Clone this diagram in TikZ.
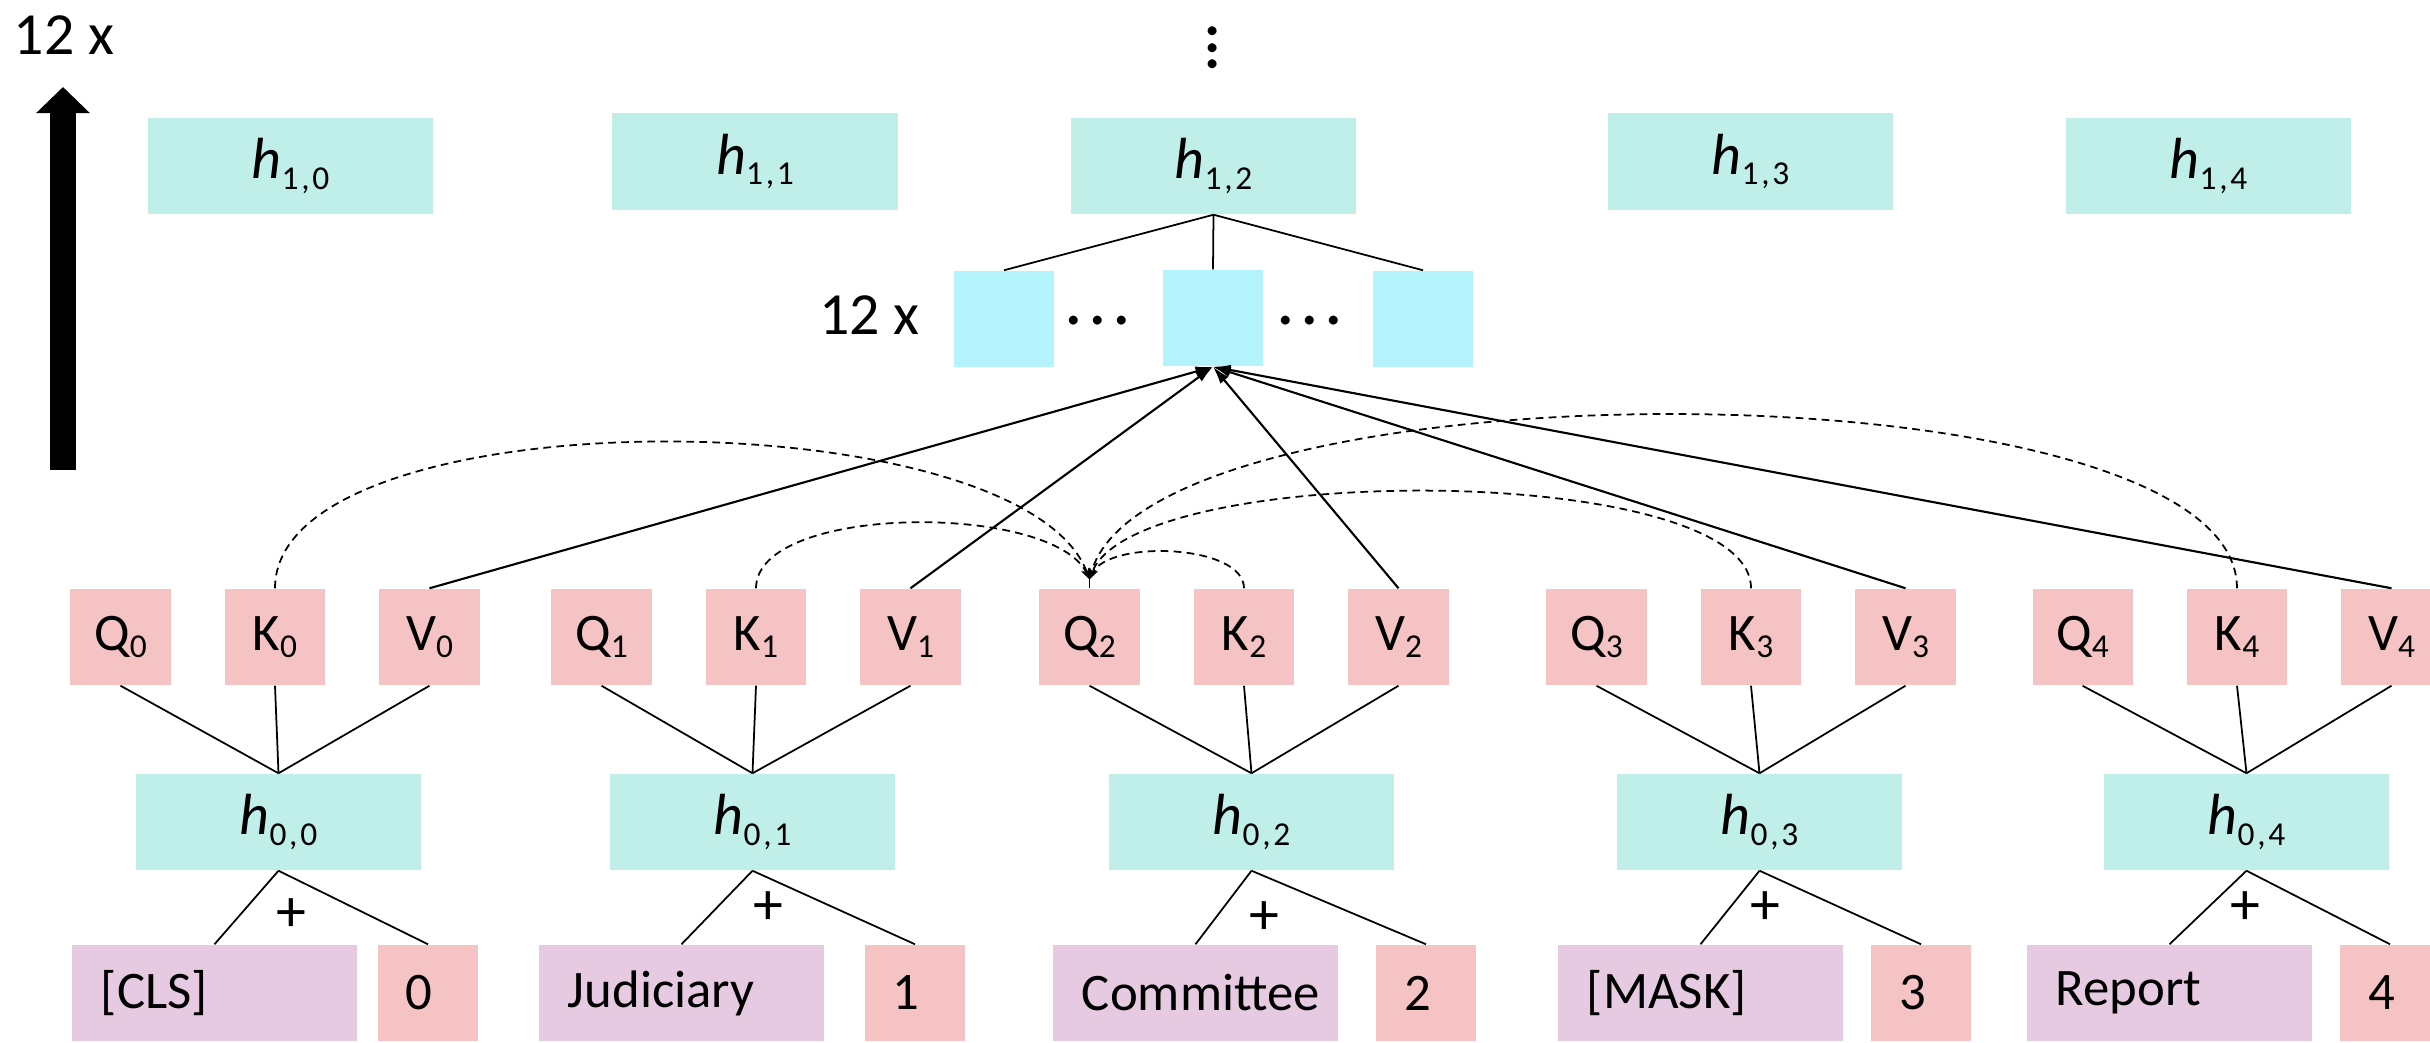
\documentclass[tikz,border=0pt]{standalone}
\usepackage{fontspec}
\setmainfont{Carlito}
\usepackage{tikz}
\usetikzlibrary{arrows.meta,positioning}

\definecolor{hcol}{RGB}{192,238,232}
\definecolor{scol}{RGB}{180,242,252}
\definecolor{pcol}{RGB}{245,195,195}
\definecolor{tcol}{RGB}{229,202,225}

\newcommand\sub[1]{\raisebox{-2pt}{\fontsize{9.5}{9.5}\selectfont #1}}
\newcommand\hlab[2]{\textit{h}\raisebox{-3pt}{\fontsize{9.5}{9.5}\selectfont #1\kern0.8pt,\kern0.8pt#2}}
\newcommand\vdotsx{.\kern-0.6pt.\kern-0.6pt.}
\newcommand\hdotsx{.\kern1.6pt.\kern1.6pt.}

\begin{document}
\begin{tikzpicture}[
  x=0.01cm, y=0.01cm,
  font=\fontsize{15}{18}\selectfont,
  >={Latex[length=5pt,width=3pt]},
  hstate/.style={fill=hcol, minimum width=2.85cm, minimum height=0.96cm, inner sep=0pt,
                 font=\fontsize{16.5}{18}\selectfont},
  headbox/.style={fill=scol, minimum width=1cm, minimum height=0.96cm, inner sep=0pt},
  qkv/.style={fill=pcol, minimum width=1cm, minimum height=0.96cm, inner sep=0pt},
  tok/.style={fill=tcol, text width=2.27cm, inner xsep=0.29cm, inner ysep=0pt,
              minimum height=0.96cm, align=left},
  posbox/.style={fill=pcol, text width=0.44cm, inner xsep=0.28cm, inner ysep=0pt,
                 minimum height=0.96cm, align=left},
  plus/.style={font=\fontsize{17}{18}\selectfont, inner sep=0pt},
  replab/.style={font=\fontsize{17}{20}\selectfont, inner sep=0pt},
  dotlab/.style={font=\fontsize{21}{21}\selectfont, inner sep=0pt},
  conn/.style={line width=0.5pt},
  arr/.style={->, line width=0.6pt},
  attn/.style={-{Stealth[length=3pt,width=2.4pt]}, line width=0.5pt, dash pattern=on 2.2pt off 1.5pt},
  bigarrow/.style={line width=0.26cm, -{Triangle[length=0.26cm,width=0.52cm]}},
  node distance=0.53cm
]
\useasboundingbox (0,0) rectangle (2430,1042);

% ---------- layer 1 outputs ----------
\node[hstate] (h10) at (290.5,876) {\hlab{1}{0}};
\node[hstate] (h11) at (755,880.5) {\hlab{1}{1}};
\node[hstate] (h12) at (1213.5,876) {\hlab{1}{2}};
\node[hstate] (h13) at (1750.5,880.5) {\hlab{1}{3}};
\node[hstate] (h14) at (2208.5,876) {\hlab{1}{4}};
\node[dotlab, rotate=90] (more) at (1213,994) {\vdotsx};

% stack of 12 layers
\node[replab] (rep1) at (64,1007) {12 x};
\coordinate (upbot) at (63,572);
\coordinate (uptop) at (63,955);
\draw[bigarrow] (upbot) -- (uptop);

% ---------- attention heads ----------
\node[headbox] (sM) at (1213,724) {};
\node[headbox] (sL) at (1004,723) {};
\node[headbox] (sR) at (1423,723) {};
\node[dotlab] (dl) at (1098,721) {\hdotsx};
\node[dotlab] (dr) at (1310,721) {\hdotsx};
\node[replab] (rep2) at (869,727) {12 x};

\draw[conn] (h12.south) -- (sL.north);
\draw[conn] (h12.south) -- (sM.north);
\draw[conn] (h12.south) -- (sR.north);

% ---------- queries, keys, values ----------
\node[qkv] (K0) at (275,405) {K\sub{0}};
\node[qkv, left=of K0] (Q0) {Q\sub{0}};
\node[qkv, right=of K0] (V0) {V\sub{0}};
\node[qkv] (K1) at (756,405) {K\sub{1}};
\node[qkv, left=of K1] (Q1) {Q\sub{1}};
\node[qkv, right=of K1] (V1) {V\sub{1}};
\node[qkv] (K2) at (1244,405) {K\sub{2}};
\node[qkv, left=of K2] (Q2) {Q\sub{2}};
\node[qkv, right=of K2] (V2) {V\sub{2}};
\node[qkv] (K3) at (1751,405) {K\sub{3}};
\node[qkv, left=of K3] (Q3) {Q\sub{3}};
\node[qkv, right=of K3] (V3) {V\sub{3}};
\node[qkv] (K4) at (2237,405) {K\sub{4}};
\node[qkv, left=of K4] (Q4) {Q\sub{4}};
\node[qkv, right=of K4] (V4) {V\sub{4}};

% ---------- layer 0 states ----------
\node[hstate] (h00) at (278.5,220) {\hlab{0}{0}};
\node[hstate] (h01) at (752.5,220) {\hlab{0}{1}};
\node[hstate] (h02) at (1251.5,220) {\hlab{0}{2}};
\node[hstate] (h03) at (1759.5,220) {\hlab{0}{3}};
\node[hstate] (h04) at (2246.5,220) {\hlab{0}{4}};

% ---------- token + position embeddings ----------
\node[tok] (t0) at (214.5,49) {[CLS]};
\node[posbox] (n0) at (428,49) {0};
\node[tok] (t1) at (681.5,49) {Judiciary};
\node[posbox] (n1) at (915,49) {1};
\node[tok] (t2) at (1195.5,49) {Committee};
\node[posbox] (n2) at (1426,49) {2};
\node[tok] (t3) at (1700.5,49) {[MASK]};
\node[posbox] (n3) at (1921,49) {3};
\node[tok] (t4) at (2169.5,49) {Report};
\node[posbox] (n4) at (2390,49) {4};

\node[plus] (p0) at (291,127) {+};
\node[plus] (p1) at (768,134) {+};
\node[plus] (p2) at (1264,124) {+};
\node[plus] (p3) at (1765,134) {+};
\node[plus] (p4) at (2245,134) {+};

% embeddings -> h0
\draw[conn] (h00.south) -- (t0.north);  \draw[conn] (h00.south) -- (n0.north);
\draw[conn] (h01.south) -- (t1.north);  \draw[conn] (h01.south) -- (n1.north);
\draw[conn] (h02.south) -- (t2.north);  \draw[conn] (h02.south) -- (n2.north);
\draw[conn] (h03.south) -- (t3.north);  \draw[conn] (h03.south) -- (n3.north);
\draw[conn] (h04.south) -- (t4.north);  \draw[conn] (h04.south) -- (n4.north);

% h0 -> Q, K, V
\draw[conn] (Q0.south) -- (h00.north);  \draw[conn] (K0.south) -- (h00.north);  \draw[conn] (V0.south) -- (h00.north);
\draw[conn] (Q1.south) -- (h01.north);  \draw[conn] (K1.south) -- (h01.north);  \draw[conn] (V1.south) -- (h01.north);
\draw[conn] (Q2.south) -- (h02.north);  \draw[conn] (K2.south) -- (h02.north);  \draw[conn] (V2.south) -- (h02.north);
\draw[conn] (Q3.south) -- (h03.north);  \draw[conn] (K3.south) -- (h03.north);  \draw[conn] (V3.south) -- (h03.north);
\draw[conn] (Q4.south) -- (h04.north);  \draw[conn] (K4.south) -- (h04.north);  \draw[conn] (V4.south) -- (h04.north);

% values into the head
\draw[arr] (V0.north) -- (sM.south);
\draw[arr] (V1.north) -- (sM.south);
\draw[arr] (V2.north) -- (sM.south);
\draw[arr] (V3.north) -- (sM.south);
\draw[arr] (V4.north) -- (sM.south);

% keys scored against Q2
\coordinate (hub) at ([yshift=0.09cm]Q2.north);
\draw[conn] (Q2.north) -- (hub);
\draw[attn] (K0.north) to[out=90,in=110,looseness=0.61] (hub);
\draw[attn] (K1.north) to[out=90,in=115,looseness=0.65] (hub);
\draw[attn] (K2.north) to[out=90,in=65,looseness=0.73] (hub);
\draw[attn] (K3.north) to[out=90,in=70,looseness=0.49] (hub);
\draw[attn] (K4.north) to[out=90,in=75,looseness=0.51] (hub);

\end{tikzpicture}
\end{document}
